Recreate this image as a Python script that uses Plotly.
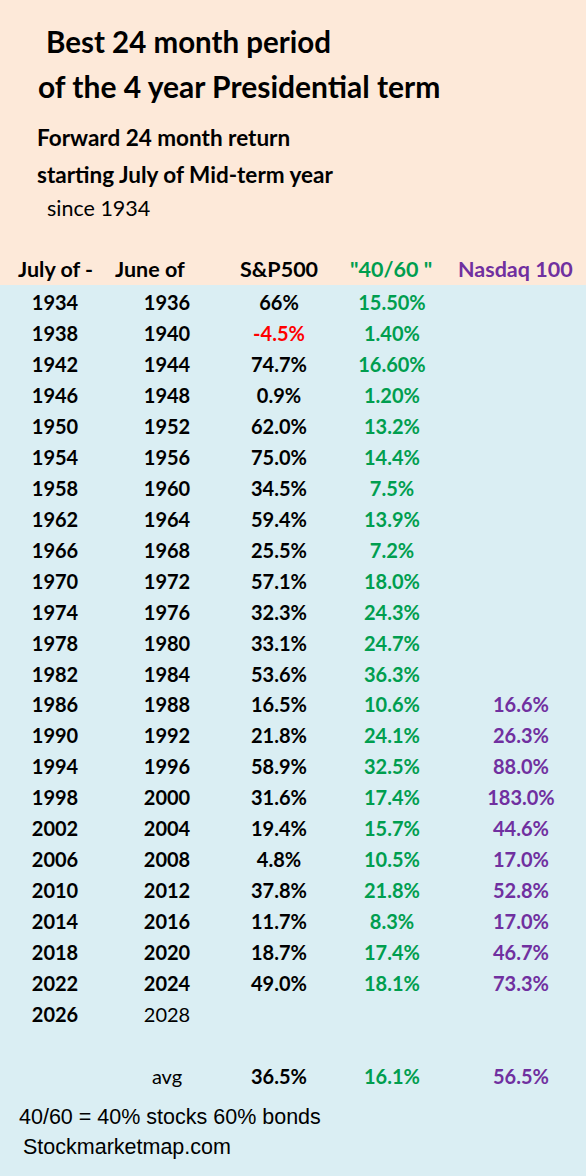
import plotly.graph_objects as go

# Table data
july_of = ["1934", "1938", "1942", "1946", "1950", "1954", "1958", "1962", "1966", "1970",
           "1974", "1978", "1982", "1986", "1990", "1994", "1998", "2002", "2006", "2010",
           "2014", "2018", "2022", "2026"]
june_of = ["1936", "1940", "1944", "1948", "1952", "1956", "1960", "1964", "1968", "1972",
           "1976", "1980", "1984", "1988", "1992", "1996", "2000", "2004", "2008", "2012",
           "2016", "2020", "2024", "2028"]
sp500 = ["66%", "-4.5%", "74.7%", "0.9%", "62.0%", "75.0%", "34.5%", "59.4%", "25.5%", "57.1%",
         "32.3%", "33.1%", "53.6%", "16.5%", "21.8%", "58.9%", "31.6%", "19.4%", "4.8%", "37.8%",
         "11.7%", "18.7%", "49.0%", ""]
mix_40_60 = ["15.50%", "1.40%", "16.60%", "1.20%", "13.2%", "14.4%", "7.5%", "13.9%", "7.2%", "18.0%",
             "24.3%", "24.7%", "36.3%", "10.6%", "24.1%", "32.5%", "17.4%", "15.7%", "10.5%", "21.8%",
             "8.3%", "17.4%", "18.1%", ""]
nasdaq100 = [""] * 13 + ["16.6%", "26.3%", "88.0%", "183.0%", "44.6%", "17.0%", "52.8%", "17.0%",
                         "46.7%", "73.3%", ""]
averages = ["36.5%", "16.1%", "56.5%"]
headers = ["July of -", "June of", "S&P500", "\"40/60 \"", "Nasdaq 100"]

# Styling / layout
W, H = 586, 1176
PEACH = "#FDE9D9"
BLUE = "#DAEEF3"
GREEN = "#009E4F"
PURPLE = "#7030A0"
RED = "#FF0000"
FONT = "Lato"
SIZE = 20
COL_X = [55, 167, 279, 392, 521]
HEAD_X = [55, 150, 279, 391, 515]
ROW0_PX = 305
ROW_STEP = 30.96

rows = list(range(len(july_of)))
avg_row = len(july_of) + 1

fig = go.Figure()


def col_trace(x, texts, colors, weight="bold"):
    fig.add_trace(go.Scatter(
        x=[x] * len(texts), y=rows[:len(texts)], mode="text", text=texts,
        textposition="middle center", cliponaxis=False, hoverinfo="skip",
        textfont=dict(family=FONT, size=SIZE, color=colors, weight=weight),
        showlegend=False,
    ))


col_trace(COL_X[0], july_of, "black")
col_trace(COL_X[1], june_of[:-1], "black")
# last "June of" entry and "avg" are regular weight
fig.add_trace(go.Scatter(
    x=[COL_X[1], COL_X[1]], y=[rows[-1], avg_row], mode="text", text=[june_of[-1], "avg"],
    textposition="middle center", hoverinfo="skip", showlegend=False,
    textfont=dict(family=FONT, size=SIZE, color="black", weight="normal"),
))
col_trace(COL_X[2], sp500, [RED if s.startswith("-") else "black" for s in sp500])
col_trace(COL_X[3], mix_40_60, GREEN)
col_trace(COL_X[4], nasdaq100, PURPLE)

# average row
fig.add_trace(go.Scatter(
    x=COL_X[2:], y=[avg_row] * 3, mode="text", text=averages,
    textposition="middle center", hoverinfo="skip", showlegend=False,
    textfont=dict(family=FONT, size=SIZE, color=["black", GREEN, PURPLE], weight="bold"),
))

# header row
head_colors = ["black", "black", "black", GREEN, PURPLE]
for hx, ht, hc in zip(HEAD_X, headers, head_colors):
    fig.add_annotation(x=hx, y=1 - 269 / H, xref="x", yref="paper", text=ht, showarrow=False,
                       xanchor="center", yanchor="middle",
                       font=dict(family=FONT, size=21.5, color=hc, weight="bold"))


def left_text(px_x, px_y, text, size, weight="bold", family=FONT):
    fig.add_annotation(x=px_x, y=1 - px_y / H, xref="x", yref="paper", text=text, showarrow=False,
                       xanchor="left", yanchor="middle",
                       font=dict(family=family, size=size, color="black", weight=weight))


left_text(44, 42, "Best 24 month period", 29.5)
left_text(36, 86, "of the 4 year Presidential term", 30)
left_text(35, 137, "Forward 24 month return", 22.5)
left_text(35, 174, "starting July of Mid-term year", 22.5)
left_text(45, 208, "since 1934", 21.5, weight="normal")
left_text(17, 1117, "40/60 = 40% stocks 60% bonds", 21.5, weight="normal", family="Liberation Sans")
left_text(21, 1147, "Stockmarketmap.com", 21.5, weight="normal", family="Liberation Sans")

fig.add_shape(type="rect", xref="paper", yref="paper", x0=0, x1=1, y0=0, y1=1 - 285 / H,
              fillcolor=BLUE, line=dict(width=0), layer="below")

fig.update_layout(
    width=W, height=H,
    margin=dict(l=0, r=0, t=0, b=0),
    paper_bgcolor=PEACH, plot_bgcolor=PEACH,
    xaxis=dict(range=[0, W], visible=False, fixedrange=True),
    yaxis=dict(range=[(H - ROW0_PX) / ROW_STEP, -ROW0_PX / ROW_STEP], visible=False, fixedrange=True),
    showlegend=False,
)

fig.write_html("out.html", config={"displayModeBar": False},
               post_script="document.body.style.margin='0';document.body.style.overflow='hidden';")
